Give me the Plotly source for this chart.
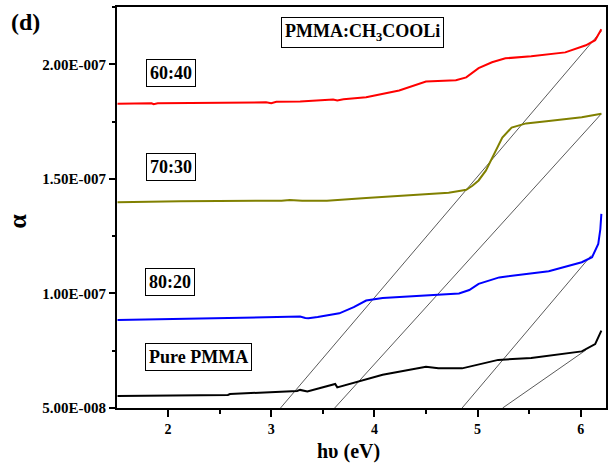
import plotly.graph_objects as go

# ---- data (alpha in units of 1e-8) ----
x_6040 = [1.51, 1.84, 1.86, 1.90, 2.95, 3.00, 3.05, 3.28, 3.60, 3.64, 3.70, 3.92, 4.24, 4.50, 4.79, 4.89, 5.01, 5.14, 5.27, 5.52, 5.85, 6.05, 6.14, 6.20]
y_6040 = [18.28, 18.30, 18.26, 18.30, 18.34, 18.30, 18.36, 18.38, 18.46, 18.42, 18.47, 18.56, 18.86, 19.25, 19.30, 19.43, 19.83, 20.09, 20.26, 20.35, 20.52, 20.83, 21.05, 21.53]

x_7030 = [1.51, 2.12, 3.10, 3.18, 3.30, 3.54, 3.92, 4.41, 4.72, 4.85, 4.89, 4.95, 5.01, 5.08, 5.13, 5.18, 5.24, 5.33, 5.47, 5.69, 6.01, 6.20]
y_7030 = [13.98, 14.02, 14.05, 14.08, 14.05, 14.04, 14.17, 14.30, 14.39, 14.49, 14.52, 14.70, 14.93, 15.36, 15.80, 16.24, 16.80, 17.24, 17.42, 17.52, 17.69, 17.84]

x_8020 = [1.51, 2.09, 3.10, 3.28, 3.33, 3.36, 3.45, 3.66, 3.80, 3.92, 4.08, 4.56, 4.82, 4.92, 5.01, 5.21, 5.69, 6.01, 6.11, 6.17, 6.19, 6.20]
y_8020 = [8.84, 8.89, 8.99, 8.99, 8.93, 8.92, 8.97, 9.13, 9.40, 9.69, 9.80, 9.93, 10.00, 10.15, 10.42, 10.70, 10.97, 11.36, 11.58, 12.16, 12.80, 13.47]

x_pure = [1.51, 2.10, 2.12, 2.58, 2.60, 2.95, 3.25, 3.28, 3.35, 3.62, 3.64, 4.08, 4.50, 4.62, 4.85, 5.20, 5.52, 6.01, 6.14, 6.20]
y_pure = [5.52, 5.53, 5.56, 5.57, 5.61, 5.68, 5.74, 5.79, 5.72, 6.05, 5.90, 6.45, 6.80, 6.73, 6.73, 7.10, 7.18, 7.47, 7.79, 8.38]

# tangent (extrapolation) lines: start and end points
tan_x = [[3.09, 6.20], [3.615, 6.20], [4.85, 6.10], [5.243, 6.05]]
tan_y = [[5.00, 21.45], [5.00, 17.84], [5.00, 11.65], [5.00, 7.53]]

scale = 1e-8
y_ticks = [5e-8, 1e-7, 1.5e-7, 2e-7]
y_ticktext = ["5.00E-008", "1.00E-007", "1.50E-007", "2.00E-007"]
y_minor = [7.5e-8, 1.25e-7, 1.75e-7, 2.25e-7]
x_ticks = [2, 3, 4, 5, 6]
x_minor = [1.5, 2.5, 3.5, 4.5, 5.5]

series = [
    ("60:40", x_6040, y_6040, "#ff0000"),
    ("70:30", x_7030, y_7030, "#808000"),
    ("80:20", x_8020, y_8020, "#0000ff"),
    ("Pure PMMA", x_pure, y_pure, "#000000"),
]

FONT = "Liberation Serif"

fig = go.Figure()
for tx, ty in zip(tan_x, tan_y):
    fig.add_trace(go.Scatter(x=tx, y=[v * scale for v in ty], mode="lines",
                             line=dict(color="#5a5a5a", width=1),
                             showlegend=False, hoverinfo="skip"))
for name, xs, ys, col in series:
    fig.add_trace(go.Scatter(x=xs, y=[v * scale for v in ys], mode="lines",
                             line=dict(color=col, width=2), name=name,
                             showlegend=False))

axis_common = dict(showgrid=False, zeroline=False, showline=True, linecolor="black",
                   linewidth=2, mirror=True, ticks="outside", tickcolor="black",
                   tickwidth=1.5)

fig.update_xaxes(range=[1.505, 6.245], tickmode="array", tickvals=x_ticks, ticklen=7,
                 minor=dict(tickmode="array", tickvals=x_minor, ticklen=4,
                            ticks="outside", tickcolor="black", tickwidth=1.5),
                 tickfont=dict(family=FONT, size=14, color="black", weight="bold"),
                 **axis_common)
fig.update_yaxes(range=[5e-8, 2.25e-7], tickmode="array", tickvals=y_ticks,
                 ticktext=y_ticktext, ticklen=6,
                 minor=dict(tickmode="array", tickvals=y_minor, ticklen=3,
                            ticks="outside", tickcolor="black", tickwidth=1.5),
                 tickfont=dict(family=FONT, size=15, color="black", weight="bold"),
                 **axis_common)

def box(text, px, py, size=18):
    return dict(text=text, xref="paper", yref="paper", x=px, y=py,
                xanchor="left", yanchor="top", showarrow=False,
                font=dict(family=FONT, size=size, color="black", weight="bold"),
                bordercolor="black", borderwidth=1, borderpad=3, bgcolor="white")

annotations = [
    box("60:40", 0.059, 0.871),
    box("70:30", 0.059, 0.635),
    box("80:20", 0.057, 0.350),
    box("Pure PMMA", 0.057, 0.161),
    box("PMMA:CH<sub>3</sub>COOLi", 0.336, 0.974, size=18),
    dict(text="(d)", xref="paper", yref="paper", x=-0.22, y=1.0, xanchor="left",
         yanchor="top", showarrow=False,
         font=dict(family=FONT, size=24, color="black", weight="bold")),
    dict(text="\u03b1", xref="paper", yref="paper", x=-0.204, y=0.465, xanchor="center",
         yanchor="middle", showarrow=False, textangle=-90,
         font=dict(family=FONT, size=26, color="black", weight="bold")),
    dict(text="h\u03c5 (eV)", xref="paper", yref="paper", x=0.474, y=-0.074, xanchor="center",
         yanchor="top", showarrow=False,
         font=dict(family=FONT, size=20, color="black", weight="bold")),
]

fig.update_layout(width=612, height=465, margin=dict(l=117, r=4, t=7, b=57),
                  paper_bgcolor="white", plot_bgcolor="white",
                  annotations=annotations, showlegend=False)

fig.write_html("out.html", config={"displayModeBar": False},
               post_script="document.body.style.margin='0';document.body.style.padding='0';")
